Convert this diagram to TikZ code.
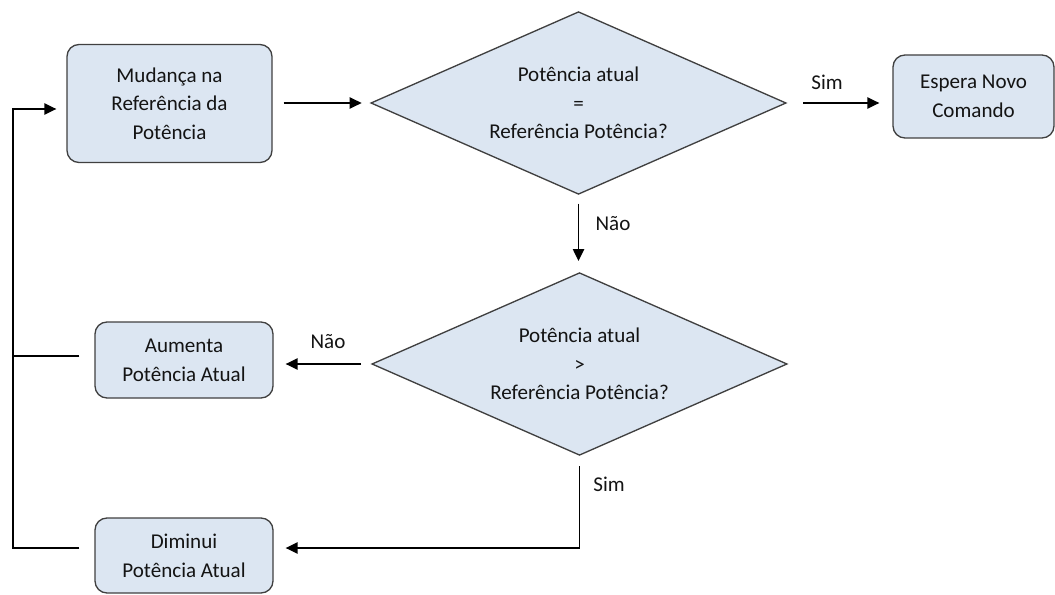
\documentclass[tikz,border=0pt]{standalone}
\usepackage{fontspec}
\setmainfont{Carlito}
\usetikzlibrary{shapes.geometric,arrows.meta,calc}
\definecolor{boxfill}{HTML}{DCE6F2}
\definecolor{boxedge}{HTML}{404040}
\definecolor{ink}{HTML}{141414}
\begin{document}
\begin{tikzpicture}[x=0.75pt,y=-0.75pt,
  every node/.style={font=\fontsize{15.8}{21.5}\selectfont, text=ink},
  procbox/.style={draw=boxedge, fill=boxfill, line width=1pt, rounded corners=9pt,
    align=center, inner sep=0pt},
  decision/.style={diamond, aspect=2.27, draw=boxedge, fill=boxfill, line width=1pt,
    align=center, inner sep=0pt, minimum width=311.5pt, minimum height=137pt},
  link/.style={draw=black, line width=1.1pt},
  flow/.style={link, -{Triangle[length=9pt,width=8.5pt]}},
  tag/.style={inner sep=0pt}]
\useasboundingbox (0,0) rectangle (1055,595);

% process boxes
\node[procbox, minimum width=153.75pt, minimum height=88.5pt] (ref) at (169.5,103.5)
  {Mudança na\\Referência da\\Potência};
\node[procbox, minimum width=120.75pt, minimum height=62.25pt] (wait) at (973.5,96.5)
  {Espera Novo\\Comando};
\node[procbox, minimum width=133.5pt, minimum height=57pt] (up) at (184,360)
  {Aumenta\\Potência Atual};
\node[procbox, minimum width=133.5pt, minimum height=56.25pt] (down) at (184,555.5)
  {Diminui\\Potência Atual};

% decisions
\node[decision] (eq) at (578.5,103) {Potência atual\\=\\Referência Potência?};
\node[decision] (gt) at (579.5,364) {Potência atual\\>\\Referência Potência?};

% connectors
\draw[flow, shorten <=8.25pt, shorten >=6.4pt] (ref.east |- eq.west) -- (eq.west);
\draw[flow, shorten <=12.4pt, shorten >=9.75pt] (eq.east) -- (eq.east -| wait.west);
\draw[flow, shorten <=6.4pt, shorten >=8.25pt] (eq.south) -- (eq.south |- gt.north);
\draw[flow, shorten <=7.5pt, shorten >=9pt] (gt.west) -- (gt.west -| up.east);
\coordinate (downIn) at ($(down.east)+(0,-7.5)$);
\draw[flow, shorten <=7.5pt, shorten >=9pt] (gt.south) |- (downIn);

% feedback loop back to the first box
\coordinate (loopTop) at (13,109);
\coordinate (upOut) at ($(up.west)+(-15,-4)$);
\coordinate (downOut) at ($(down.west)+(-15,-7.5)$);
\draw[link] (upOut) -- (upOut -| loopTop);
\draw[flow, shorten >=7.5pt] (downOut) -| (loopTop) -- (loopTop -| ref.west);

% branch labels
\node[tag] (simA) at (827,82) {Sim};
\node[tag] (naoA) at (613,224) {Não};
\node[tag] (naoB) at (328,342) {Não};
\node[tag] (simB) at (609,484) {Sim};
\end{tikzpicture}
\end{document}
